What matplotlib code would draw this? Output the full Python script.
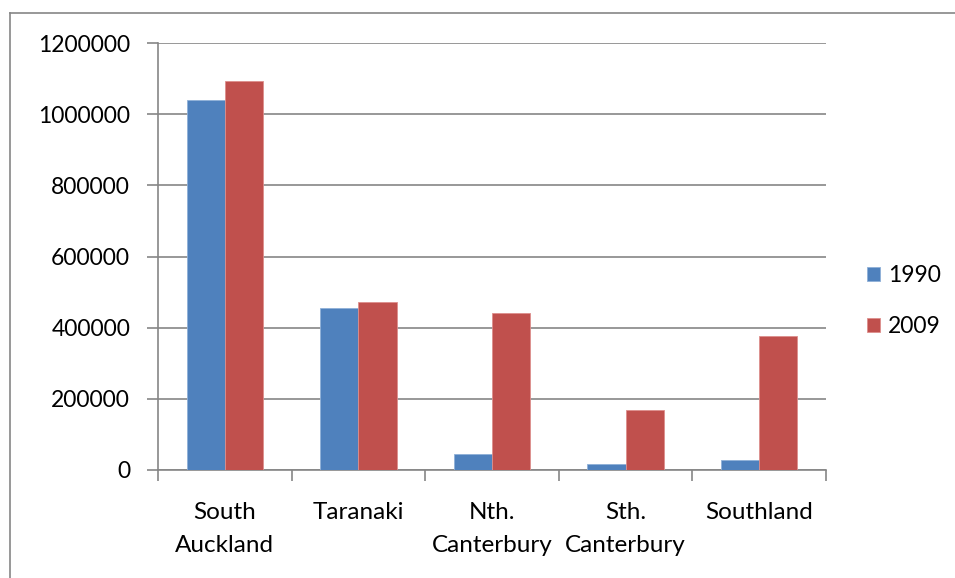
import matplotlib.pyplot as plt
import numpy as np
from matplotlib.lines import Line2D

categories = ['South\nAuckland', 'Taranaki', 'Nth.\nCanterbury', 'Sth.\nCanterbury', 'Southland']
series_names = ['1990', '2009']
values_1990 = [1040000, 455000, 45000, 17000, 28000]
values_2009 = [1092000, 472000, 441000, 168000, 377000]
y_ticks = [0, 200000, 400000, 600000, 800000, 1000000, 1200000]

BLUE = '#4F81BD'
RED = '#C0504D'
GRID = '#868686'

plt.rcParams['font.family'] = ['Lato', 'DejaVu Sans']

fig = plt.figure(figsize=(9.55, 5.78), dpi=100)
ax = fig.add_axes([158 / 955, 1 - 470 / 578, 668 / 955, 427 / 578])

x = np.arange(len(categories))
width = 1 / 3.5  # Excel gap width 150%
ax.bar(x - width / 2, values_1990, width, color=BLUE, edgecolor='#8fb0d8', linewidth=0.6,
       label=series_names[0], zorder=3)
ax.bar(x + width / 2, values_2009, width, color=RED, edgecolor='#dd8e8c', linewidth=0.6,
       label=series_names[1], zorder=3)

ax.set_xlim(-0.5, len(categories) - 0.5)
ax.set_ylim(0, 1200000)
ax.set_yticks(y_ticks)
ax.set_yticklabels([str(v) for v in y_ticks], fontsize=16.5)
ax.yaxis.grid(True, color=GRID, linewidth=1.2, zorder=0)

# category labels between tick marks
ax.set_xticks(np.arange(len(categories) + 1) - 0.5)
ax.set_xticklabels([])
ax.set_xticks(x, minor=True)
ax.set_xticklabels(categories, minor=True, fontsize=17.5, linespacing=1.7, va='top')
ax.tick_params(axis='x', which='minor', length=0, pad=23)
ax.tick_params(axis='x', which='major', length=8, width=1.2, color=GRID)
ax.tick_params(axis='y', length=8, width=1.2, color=GRID, pad=12)

for side in ['top', 'right']:
    ax.spines[side].set_visible(False)
for side in ['left', 'bottom']:
    ax.spines[side].set_color(GRID)
    ax.spines[side].set_linewidth(1.2)

fig.legend(loc='center left', bbox_to_anchor=(867 / 955, 1 - 301 / 578), frameon=False,
           fontsize=16.5, handlelength=0.55, handleheight=0.55, handletextpad=0.35,
           labelspacing=1.3, borderpad=0, borderaxespad=0)

# outer chart border (only left and top visible in the crop)
fig.add_artist(Line2D([10 / 955, 10 / 955], [0, 1 - 13 / 578], transform=fig.transFigure,
                      color=GRID, linewidth=1.2))
fig.add_artist(Line2D([10 / 955, 1], [1 - 13 / 578, 1 - 13 / 578], transform=fig.transFigure,
                      color=GRID, linewidth=1.2))

fig.savefig('out.png', dpi=100, facecolor='white')
